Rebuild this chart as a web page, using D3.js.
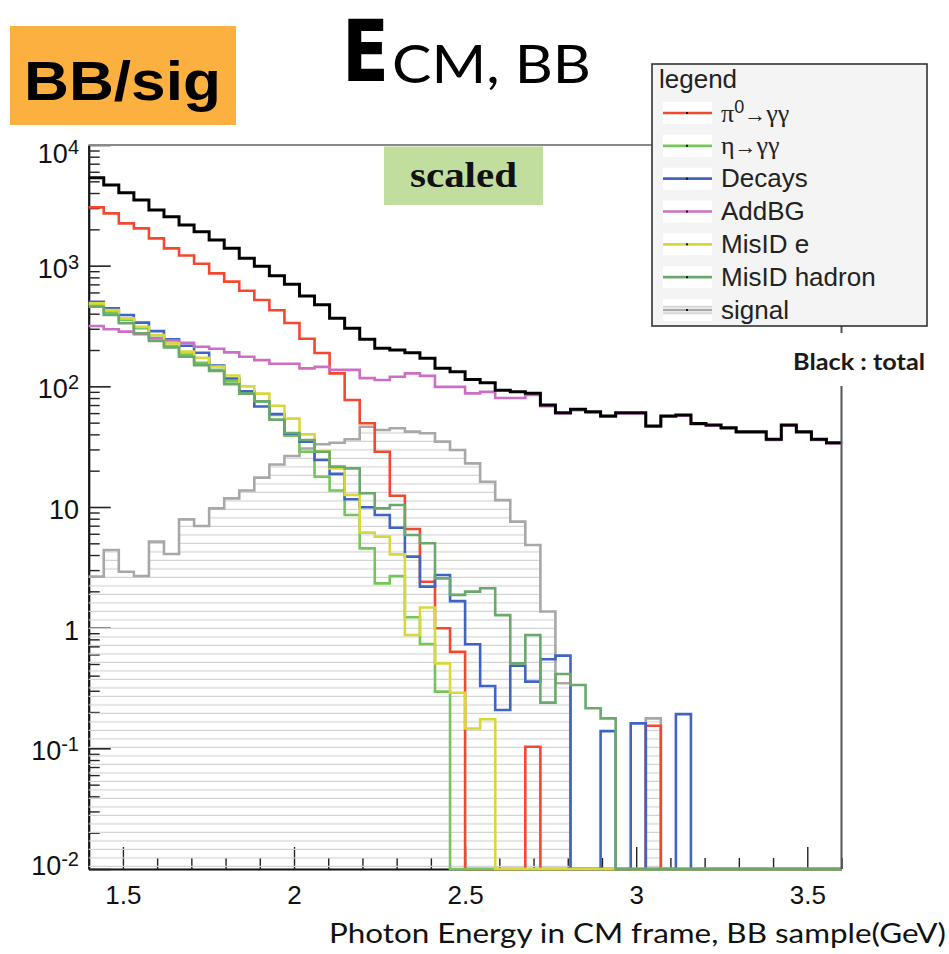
<!DOCTYPE html>
<html>
<head>
<meta charset="utf-8">
<script src="https://cdn.jsdelivr.net/npm/d3@7"></script>
<style>
  html, body { margin: 0; padding: 0; background: #fff; }
  svg { display: block; }
</style>
</head>
<body>
<svg id="chart" width="949" height="954"></svg>
<script>
// Binning of the photon-energy histograms (GeV)
const binStart = 1.4;
const binWidth = 0.044;
const nBins = 50;

// Per-bin contents (events, scaled)
const totalCounts = [5360, 4660, 4027, 3500, 2893, 2547, 2174, 1914, 1633, 1392,
  1151, 987, 824, 702, 560, 475, 366, 303, 245, 207,
  200, 190, 171, 141, 132, 114, 107, 93, 90, 87.5,
  70, 60.5, 64.5, 61.7, 56.8, 60.5, 60.5, 46.9, 56.8, 57.9,
  49.3, 47.8, 45.4, 42.1, 42.1, 36.4, 47.8, 42.1, 36.4, 34.1];
const pi0Counts = [3044, 2715, 2243, 2039, 1684, 1392, 1214, 1038, 864, 737,
  619, 520, 427, 335, 248, 189, 128, 77, 49.4, 28.7,
  12.4, 6.57, 2.40, 0.99, 0.63, 0, 0, 0, 0, 0.103,
  0, 0, 0, 0, 0, 0, 0, 0.154, 0, 0,
  0, 0, 0, 0, 0, 0, 0, 0, 0, 0];
const etaCounts = [472, 408, 355, 303, 252, 216, 183, 157, 137, 110,
  89, 75, 58, 39, 28.7, 17.8, 13.7, 8.59, 4.54, 2.33,
  2.68, 1.22, 0.733, 0.295, 0, 0, 0, 0, 0, 0,
  0, 0, 0, 0, 0, 0, 0, 0, 0, 0,
  0, 0, 0, 0, 0, 0, 0, 0, 0, 0];
const decayCounts = [503, 443, 390, 337, 287, 245, 217, 190, 149, 116,
  91, 68, 59, 40.5, 34.8, 24.5, 18.8, 11.6, 9.94, 8.59,
  6.74, 3.88, 2.19, 2.73, 1.66, 0.728, 0.329, 0.208, 0.484, 0.357,
  0.547, 0.586, 0, 0, 0.139, 0, 0.161, 0, 0, 0.192,
  0, 0, 0, 0, 0, 0, 0, 0, 0, 0];
const addBGCounts = [316, 297, 284, 271, 250, 240, 229, 213, 205, 191,
  176, 165, 154, 154, 141, 145, 137, 137, 117, 113,
  120, 128, 122, 99, 99, 87.5, 90, 80, 80, 85,
  68.5, 59.5, 63.5, 60.8, 56, 59.6, 59.7, 46.2, 56, 57,
  48.6, 47.1, 44.8, 41.5, 41.5, 35.9, 47.1, 41.5, 35.9, 33.6];
const misIdECounts = [487, 429, 366, 312, 266, 227, 194, 172, 146, 123,
  100, 87, 69, 54, 40, 29, 20.9, 12.6, 6.13, 5.68,
  4.05, 0.87, 1.47, 0.506, 0.289, 0.146, 0.174, 0, 0, 0,
  0, 0, 0, 0, 0, 0, 0, 0, 0, 0,
  0, 0, 0, 0, 0, 0, 0, 0, 0, 0];
const misIdHadronCounts = [457, 390, 333, 275, 238, 210, 176, 150, 134, 104,
  87, 75, 53, 41, 35.9, 28.7, 21.6, 20.9, 13, 9.75,
  10.4, 5.86, 5.0, 2.56, 1.87, 1.99, 2.12, 1.27, 0.506, 0.869,
  0.239, 0.413, 0.335, 0.215, 0.177, 0, 0, 0, 0, 0,
  0, 0, 0, 0, 0, 0, 0, 0, 0, 0];
const signalCounts = [2.65, 4.40, 2.91, 2.68, 5.16, 4.08, 7.9, 6.96, 9.75, 11.8,
  13.7, 17.5, 22.5, 26.5, 30.5, 33.1, 34.1, 36.4, 46.3, 43.5,
  44.9, 42.1, 40.8, 34.8, 29.7, 23, 16.2, 11.4, 7.56, 4.84,
  1.36, 0.346, 0, 0, 0, 0, 0, 0.177, 0, 0,
  0, 0, 0, 0, 0, 0, 0, 0, 0, 0];

// Axis ticks and labels
const xMajorTicks = [1.5, 2, 2.5, 3, 3.5];
const xTickLabels = ["1.5", "2", "2.5", "3", "3.5"];
const yDecades = [-2, -1, 0, 1, 2, 3, 4];

// Legend entries (drawing order of the components)
const legendLabels = ["π0→γγ", "η→γγ", "Decays", "AddBG", "MisID e", "MisID hadron", "signal"];

const series = [
  { key: "pi0", values: pi0Counts, color: "#f4472f" },
  { key: "eta", values: etaCounts, color: "#74c65a" },
  { key: "decays", values: decayCounts, color: "#4064c2" },
  { key: "addbg", values: addBGCounts, color: "#cd6ec5" },
  { key: "misid_e", values: misIdECounts, color: "#d9d83a" },
  { key: "misid_h", values: misIdHadronCounts, color: "#6aa86b" }
];
const signalColor = "#a8a8a8";

// ---------------------------------------------------------------
const svg = d3.select("#chart");
const plot = { left: 88.7, right: 841.5, top: 145, bottom: 869 };

const x = d3.scaleLinear().domain([1.4, 3.6]).range([plot.left, plot.right]);
const y = d3.scaleLog().domain([0.01, 1e4]).range([plot.bottom, plot.top]);
const yv = v => (v > 0.01 ? y(v) : plot.bottom);

const edges = d3.range(nBins + 1).map(i => binStart + i * binWidth);
function stepPoints(vals) {
  const pts = [];
  vals.forEach((v, i) => { pts.push([edges[i], v]); pts.push([edges[i + 1], v]); });
  return pts;
}

const defs = svg.append("defs");
defs.append("clipPath").attr("id", "plotClip")
  .append("rect").attr("x", plot.left - 1).attr("y", plot.top - 4)
  .attr("width", plot.right - plot.left + 2).attr("height", plot.bottom - plot.top + 7);
const hatch = defs.append("pattern").attr("id", "hatch")
  .attr("patternUnits", "userSpaceOnUse").attr("width", 12).attr("height", 8.5);
hatch.append("line").attr("x1", 0).attr("x2", 12).attr("y1", 8.2).attr("y2", 8.2)
  .attr("stroke", "#d3d3d3").attr("stroke-width", 1.8);

// ---- axes (drawn first so the histograms sit on top) ----
const axisFont = "'Liberation Sans', Arial, Helvetica, sans-serif";

const xMinor = d3.range(15, 37).map(d => d / 10).filter(d => !xMajorTicks.includes(d));
const gx = svg.append("g").attr("transform", `translate(0,${plot.bottom})`);
gx.call(d3.axisBottom(x).tickValues(xMajorTicks)
  .tickFormat((d, i) => xTickLabels[i]).tickSizeInner(-22).tickSizeOuter(0).tickPadding(10));
gx.select(".domain").attr("stroke", "#111").attr("stroke-width", 2.2);
gx.selectAll(".tick line").attr("stroke", "#222").attr("stroke-width", 1.4);
gx.selectAll(".tick text").attr("font-family", axisFont).attr("font-size", 26)
  .attr("fill", "#111").attr("dy", "0.95em");
const gxm = svg.append("g").attr("transform", `translate(0,${plot.bottom})`);
gxm.call(d3.axisBottom(x).tickValues(xMinor).tickFormat("").tickSizeInner(-11).tickSizeOuter(0));
gxm.select(".domain").remove();
gxm.selectAll(".tick line").attr("stroke", "#222").attr("stroke-width", 1.4);

const yMajor = yDecades.map(d => Math.pow(10, d));
const yMinor = [];
yDecades.slice(0, -1).forEach(d => { for (let k = 2; k <= 9; k++) yMinor.push(k * Math.pow(10, d)); });
const gy = svg.append("g").attr("transform", `translate(${plot.left},0)`);
gy.call(d3.axisLeft(y).tickValues(yMajor).tickFormat("").tickSizeInner(-22).tickSizeOuter(0));
gy.select(".domain").attr("stroke", "#111").attr("stroke-width", 2.2);
gy.selectAll(".tick line").attr("stroke", "#222").attr("stroke-width", 1.6);
const gym = svg.append("g").attr("transform", `translate(${plot.left},0)`);
gym.call(d3.axisLeft(y).tickValues(yMinor).tickFormat("").tickSizeInner(-11).tickSizeOuter(0));
gym.select(".domain").remove();
gym.selectAll(".tick line").attr("stroke", "#222").attr("stroke-width", 1.4);

// decade labels with superscript exponents
yDecades.forEach(d => {
  const base = Math.min(Math.max(y(Math.pow(10, d)) + 12, 163), 875);
  const t = svg.append("text").attr("x", 79).attr("y", base)
    .attr("text-anchor", "end").attr("font-family", axisFont).attr("font-size", 27).attr("fill", "#111");
  if (d === 0) t.text("1");
  else if (d === 1) t.text("10");
  else {
    t.append("tspan").text("10");
    t.append("tspan").attr("dy", -9).attr("font-size", 20).text(String(d));
  }
});

// ---- histograms ----
const layer = svg.append("g").attr("clip-path", "url(#plotClip)");
const lineGen = d3.line().x(d => x(d[0])).y(d => yv(d[1]));
const areaGen = d3.area().x(d => x(d[0])).y0(plot.bottom).y1(d => yv(d[1]));

const sigPts = stepPoints(signalCounts);
layer.append("path").attr("d", areaGen(sigPts)).attr("fill", "url(#hatch)");
layer.append("path").attr("d", lineGen(sigPts)).attr("fill", "none")
  .attr("stroke", signalColor).attr("stroke-width", 2.6);

series.forEach(s => {
  layer.append("path").attr("d", lineGen(stepPoints(s.values)))
    .attr("fill", "none").attr("stroke", s.color).attr("stroke-width", 2.6)
    .attr("stroke-linejoin", "miter");
});
layer.append("path").attr("d", lineGen(stepPoints(totalCounts)))
  .attr("fill", "none").attr("stroke", "#000").attr("stroke-width", 3);

// ---- frame top / right ----
svg.append("line").attr("x1", plot.left).attr("x2", plot.right + 1)
  .attr("y1", plot.top).attr("y2", plot.top).attr("stroke", "#8a8a8a").attr("stroke-width", 2);
svg.append("line").attr("x1", plot.right).attr("x2", plot.right)
  .attr("y1", plot.top).attr("y2", plot.bottom).attr("stroke", "#555").attr("stroke-width", 2);

// ---- annotation boxes ----
svg.append("rect").attr("x", 384).attr("y", 146.5).attr("width", 159).attr("height", 58.5).attr("fill", "#c1de9e");
svg.append("text").attr("x", 410).attr("y", 187).attr("font-family", "'Liberation Serif', 'DejaVu Serif', serif")
  .attr("font-weight", "bold").attr("font-size", 35).attr("fill", "#111")
  .attr("textLength", 107).attr("lengthAdjust", "spacingAndGlyphs").text("scaled");

svg.append("rect").attr("x", 10).attr("y", 26).attr("width", 226).attr("height", 99).attr("fill", "#fbb03f");
svg.append("text").attr("x", 24).attr("y", 100).attr("font-family", axisFont)
  .attr("font-weight", "bold").attr("font-size", 56).attr("fill", "#000")
  .attr("textLength", 197).attr("lengthAdjust", "spacingAndGlyphs").text("BB/sig");

// title
svg.append("text").attr("x", 342).attr("y", 81).attr("font-family", "'DejaVu Sans', sans-serif")
  .attr("font-weight", "bold").attr("font-size", 86).attr("fill", "#000")
  .attr("textLength", 47).attr("lengthAdjust", "spacingAndGlyphs").text("E");
svg.append("text").attr("x", 392).attr("y", 83).attr("font-family", "Lato, 'Open Sans', sans-serif")
  .attr("font-size", 53).attr("fill", "#000")
  .attr("textLength", 199).attr("lengthAdjust", "spacingAndGlyphs").text("CM, BB");

// "Black : total" note over the right frame edge
svg.append("rect").attr("x", 786).attr("y", 333).attr("width", 150).attr("height", 53).attr("fill", "#fff");
svg.append("text").attr("x", 793).attr("y", 370).attr("font-family", "Lato, 'Open Sans', sans-serif")
  .attr("font-weight", "bold").attr("font-size", 23).attr("fill", "#1a1a1a")
  .attr("textLength", 132).attr("lengthAdjust", "spacingAndGlyphs").text("Black : total");

// x axis title
svg.append("text").attr("x", 946).attr("y", 943).attr("text-anchor", "end")
  .attr("font-family", "Lato, 'Open Sans', sans-serif").attr("font-size", 26).attr("fill", "#111")
  .attr("textLength", 617).attr("lengthAdjust", "spacingAndGlyphs")
  .text("Photon Energy in CM frame, BB sample(GeV)");

// ---- legend ----
const lg = svg.append("g");
lg.append("rect").attr("x", 652).attr("y", 64).attr("width", 275).attr("height", 262)
  .attr("fill", "#f4f4f4").attr("stroke", "#333").attr("stroke-width", 1.6);
lg.append("text").attr("x", 659).attr("y", 88).attr("font-family", axisFont)
  .attr("font-size", 26).attr("fill", "#222").text("legend");

const legendColors = series.map(s => s.color).concat([signalColor]);
const legendY = d3.scaleLinear().domain([0, legendLabels.length - 1]).range([113, 310]);
const serifFont = "'Liberation Serif', 'DejaVu Serif', serif";
legendLabels.forEach((label, i) => {
  const cy = legendY(i);
  lg.append("rect").attr("x", 663).attr("y", cy - 11).attr("width", 49).attr("height", 22).attr("fill", "#fff");
  if (i === legendLabels.length - 1) {
    lg.append("line").attr("x1", 663).attr("x2", 712).attr("y1", cy - 3.3).attr("y2", cy - 3.3)
      .attr("stroke", "#d6d6d6").attr("stroke-width", 2);
    lg.append("line").attr("x1", 663).attr("x2", 712).attr("y1", cy + 3.3).attr("y2", cy + 3.3)
      .attr("stroke", "#d6d6d6").attr("stroke-width", 2);
  }
  lg.append("line").attr("x1", 663).attr("x2", 712).attr("y1", cy).attr("y2", cy)
    .attr("stroke", legendColors[i]).attr("stroke-width", 2.6);
  lg.append("rect").attr("x", 686).attr("y", cy - 1).attr("width", 2).attr("height", 2).attr("fill", "#111");

  const t = lg.append("text").attr("x", 721).attr("y", cy + 8.5)
    .attr("font-family", axisFont).attr("font-size", 26).attr("fill", "#222");
  if (i === 0) {
    t.append("tspan").attr("font-family", serifFont).text("π");
    t.append("tspan").attr("dy", -9).attr("font-size", 18).text("0");
    t.append("tspan").attr("dy", 9).attr("font-size", 22).text("→");
    t.append("tspan").attr("font-family", serifFont).text("γγ");
  } else if (i === 1) {
    t.append("tspan").attr("font-family", serifFont).text("η");
    t.append("tspan").attr("font-size", 22).text("→");
    t.append("tspan").attr("font-family", serifFont).text("γγ");
  } else {
    t.text(label);
  }
});
</script>
</body>
</html>
